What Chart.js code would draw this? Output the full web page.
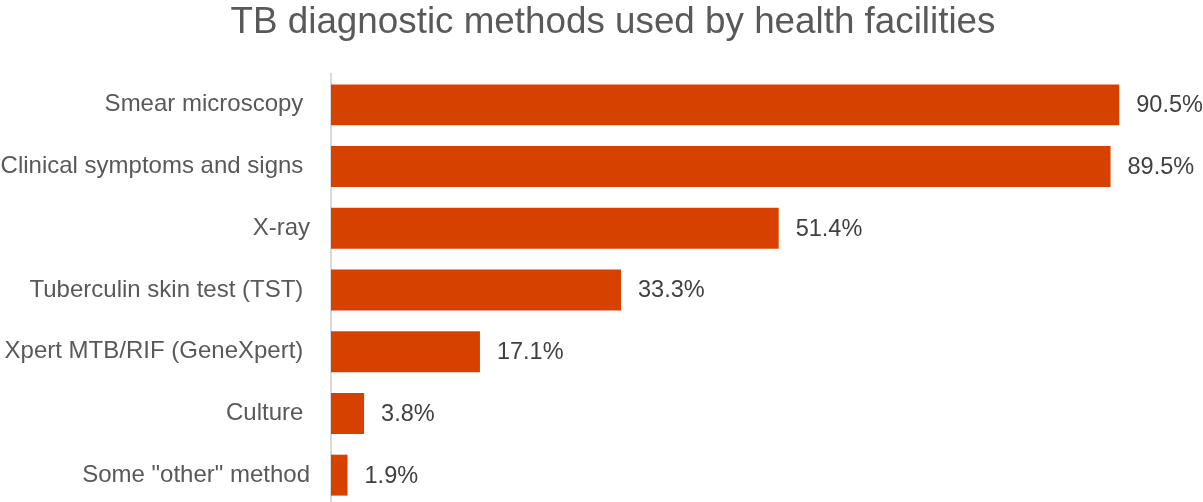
<!DOCTYPE html>
<html>
<head>
<meta charset="utf-8">
<script src="https://cdn.jsdelivr.net/npm/chart.js@4/dist/chart.umd.min.js"></script>
<style>
  html, body { margin: 0; padding: 0; background: #fff; overflow: hidden; }
  canvas { display: block; }
</style>
</head>
<body>
<canvas id="c" width="1203" height="508" style="width:1203px;height:508px"></canvas>
<script>
const titleText = 'TB diagnostic methods used by health facilities';
const categories = [
  'Smear microscopy ',
  'Clinical symptoms and signs ',
  'X-ray',
  'Tuberculin skin test (TST) ',
  'Xpert MTB/RIF (GeneXpert) ',
  'Culture ',
  'Some "other" method'
];
const values = [90.5, 89.5, 51.4, 33.3, 17.1, 3.8, 1.9];
const valueLabels = ['90.5%', '89.5%', '51.4%', '33.3%', '17.1%', '3.8%', '1.9%'];

const FONT = '"Liberation Sans", Arial, sans-serif';

const titlePlugin = {
  id: 'customTitle',
  afterDraw(chart) {
    const ctx = chart.ctx;
    ctx.save();
    ctx.font = '36.8px ' + FONT;
    ctx.fillStyle = '#595959';
    ctx.textAlign = 'center';
    ctx.textBaseline = 'alphabetic';
    ctx.fillText(titleText, 613, 33);
    ctx.restore();
  }
};

const dataLabelPlugin = {
  id: 'dataLabels',
  afterDatasetsDraw(chart) {
    const ctx = chart.ctx;
    const meta = chart.getDatasetMeta(0);
    ctx.save();
    ctx.font = '23.5px ' + FONT;
    ctx.fillStyle = '#404040';
    ctx.textAlign = 'left';
    ctx.textBaseline = 'middle';
    meta.data.forEach((bar, i) => {
      ctx.fillText(valueLabels[i], bar.x + 17, bar.y + 1);
    });
    ctx.restore();
  }
};

new Chart(document.getElementById('c'), {
  type: 'bar',
  data: {
    labels: categories,
    datasets: [{
      data: values,
      backgroundColor: '#D64100',
      borderWidth: 0,
      barPercentage: 0.663,
      categoryPercentage: 1.0
    }]
  },
  options: {
    indexAxis: 'y',
    responsive: false,
    animation: false,
    layout: { autoPadding: false, padding: { top: 74, right: 1, bottom: 2, left: 0 } },
    plugins: {
      legend: { display: false },
      tooltip: { enabled: false },
      title: { display: false }
    },
    scales: {
      x: {
        display: false,
        min: 0,
        max: 100
      },
      y: {
        afterFit(scale) {
          scale.width = 331;
          scale.paddingTop = 0;
          scale.paddingBottom = 0;
        },
        grid: { display: false, drawTicks: false },
        border: { display: true, color: '#d9d9d9', width: 2 },
        ticks: {
          color: '#595959',
          font: { family: FONT, size: 24 },
          padding: 21
        }
      }
    }
  },
  plugins: [dataLabelPlugin, titlePlugin]
});
</script>
</body>
</html>
